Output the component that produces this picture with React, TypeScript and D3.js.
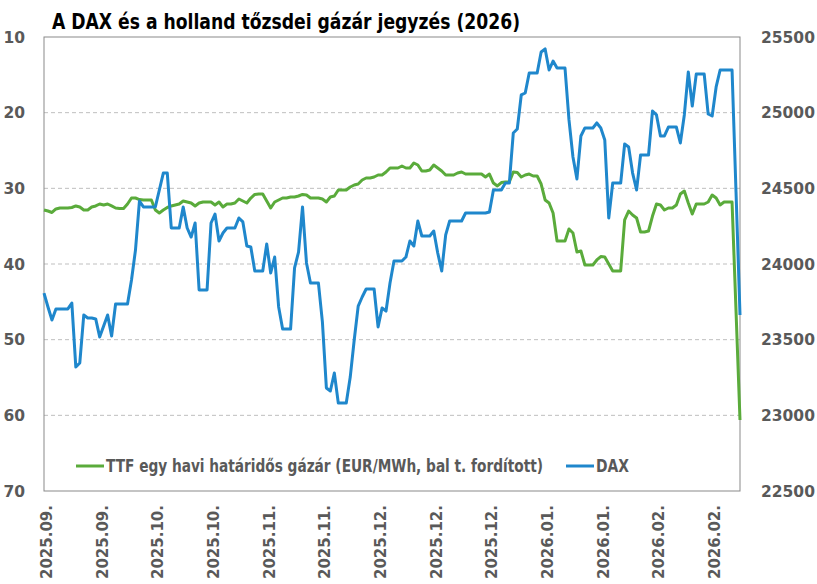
import React from "react";
import * as d3 from "d3";

const title = "A DAX és a holland tőzsdei gázár jegyzés (2026)";
const ttfLabel = "TTF egy havi határidős gázár (EUR/MWh, bal t. fordított)";
const daxLabel = "DAX";

const tickLabels = [
  "2025.09.", "2025.09.", "2025.10.", "2025.10.", "2025.11.", "2025.11.",
  "2025.12.", "2025.12.", "2025.12.", "2026.01.", "2026.01.", "2026.02.", "2026.02.",
];
const labelInterval = 14;

const leftTicks = [10, 20, 30, 40, 50, 60, 70];
const rightTicks = [22500, 23000, 23500, 24000, 24500, 25000, 25500];

const dax = [
  23808, 23716, 23630, 23703, 23703, 23703, 23703, 23742, 23319, 23346,
  23663, 23643, 23643, 23637, 23518, 23590, 23663, 23524, 23736, 23736,
  23736, 23736, 23894, 24092, 24416, 24377, 24377, 24377, 24377, 24489,
  24601, 24601, 24238, 24238, 24238, 24377, 24238, 24178, 24271, 23828,
  23828, 23828, 24271, 24330, 24152, 24205, 24238, 24238, 24238, 24304,
  24278, 24119, 24112, 23954, 23954, 23954, 24132, 23941, 24046, 23716,
  23570, 23570, 23570, 23974, 24079, 24377, 24007, 23874, 23874, 23874,
  23617, 23181, 23161, 23280, 23081, 23081, 23081, 23253, 23498, 23722,
  23782, 23835, 23835, 23835, 23584, 23709, 23689, 23874, 24020, 24020,
  24020, 24046, 24152, 24119, 24284, 24185, 24185, 24185, 24218, 24073,
  23954, 24192, 24284, 24284, 24284, 24284, 24337, 24337, 24337, 24337,
  24337, 24337, 24344, 24489, 24489, 24489, 24535, 24535, 24866, 24892,
  25117, 25130, 25262, 25262, 25262, 25401, 25421, 25282, 25341, 25295,
  25295, 25295, 24952, 24707, 24562, 24846, 24899, 24899, 24899, 24932,
  24899, 24819, 24304, 24535, 24535, 24535, 24793, 24773, 24601, 24489,
  24720, 24720, 24720, 25011, 24985, 24846, 24846, 24905, 24905, 24905,
  24800, 24985, 25269, 25044, 25255, 25255, 25255, 24991, 24978, 25170,
  25282, 25282, 25282, 25282, 24476, 23663,
];

const ttf = [
  32.86, 33.0, 33.19, 32.73, 32.6, 32.6, 32.6, 32.53, 32.33, 32.47,
  32.86, 32.86, 32.47, 32.33, 32.07, 32.2, 32.07, 32.33, 32.6, 32.66,
  32.66, 32.07, 31.28, 31.28, 31.48, 31.54, 31.54, 31.54, 32.86, 33.26,
  32.86, 32.53, 32.33, 32.2, 32.07, 31.67, 31.81, 31.94, 32.33, 31.94,
  31.81, 31.81, 31.81, 32.2, 31.81, 32.47, 32.07, 32.07, 31.94, 31.41,
  31.67, 31.94, 31.28, 30.81, 30.75, 30.75, 31.67, 32.6, 31.81, 31.54,
  31.28, 31.28, 31.15, 31.15, 31.01, 30.81, 30.88, 31.28, 31.28, 31.28,
  31.41, 31.81, 31.15, 31.01, 30.22, 30.22, 30.22, 29.82, 29.56, 29.43,
  28.9, 28.63, 28.63, 28.5, 28.24, 28.24, 27.84, 27.31, 27.31, 27.31,
  27.05, 27.31, 27.31, 26.65, 26.92, 27.71, 27.71, 27.58, 26.92, 27.31,
  27.71, 28.24, 28.24, 28.24, 27.97, 27.84, 28.11, 28.11, 28.11, 28.11,
  28.11, 28.5, 28.11, 29.3, 29.69, 29.23, 29.16, 29.16, 27.84, 27.91,
  28.5, 28.24, 28.11, 28.37, 28.37, 29.43, 31.54, 31.94, 33.26, 36.96,
  36.96, 36.96, 35.37, 35.9, 38.41, 38.28, 40.13, 40.13, 40.13, 39.47,
  39.01, 39.07, 40.0, 40.92, 40.92, 40.92, 34.18, 33.0, 33.52, 33.92,
  35.77, 35.77, 35.64, 33.66, 32.07, 32.2, 32.86, 32.6, 32.6, 32.2,
  30.75, 30.35, 31.94, 33.39, 32.07, 32.07, 32.07, 31.81, 30.88, 31.28,
  32.2, 31.81, 31.81, 31.81, 46.21, 60.62,
];

const W = 817;
const H = 584;
const plot = { left: 44, right: 740, top: 37, bottom: 491 };
const green = "#5aab3b";
const blue = "#1f87cc";
const tickColor = "#595959";
const tickFont = "'DejaVu Sans', Verdana, sans-serif";
const narrowFont = "'Liberation Sans Narrow', 'Arial Narrow', 'DejaVu Sans Condensed', 'Liberation Sans', Arial, sans-serif";

export default function App() {
  const n = dax.length;
  const x = d3.scaleLinear().domain([0, n - 1]).range([plot.left, plot.right]);
  const yL = d3.scaleLinear().domain([10, 70]).range([plot.top, plot.bottom]);
  const yR = d3.scaleLinear().domain([22500, 25500]).range([plot.bottom, plot.top]);

  const ttfLine = d3.line<number>().x((_, i) => x(i)).y((d) => yL(d))(ttf) || "";
  const daxLine = d3.line<number>().x((_, i) => x(i)).y((d) => yR(d))(dax) || "";

  return (
    <svg
      width={W}
      height={H}
      viewBox={`0 0 ${W} ${H}`}
      style={{ position: "absolute", left: 0, top: 0, background: "#fff", display: "block" }}
    >
      <rect x={0} y={0} width={W} height={H} fill="#fff" />
      <text
        x={52}
        y={29}
        fontFamily={narrowFont}
        fontWeight="bold"
        fontSize={21}
        fill="#000"
        textLength={468}
        lengthAdjust="spacingAndGlyphs"
      >
        {title}
      </text>

      {leftTicks.slice(1, -1).map((t) => (
        <line
          key={"g" + t}
          x1={plot.left}
          x2={plot.right}
          y1={yL(t)}
          y2={yL(t)}
          stroke="#bfbfbf"
          strokeWidth={1}
          strokeDasharray="4,3"
        />
      ))}

      <rect
        x={plot.left}
        y={plot.top}
        width={plot.right - plot.left}
        height={plot.bottom - plot.top}
        fill="none"
        stroke="#898989"
        strokeWidth={1}
      />

      {leftTicks.map((t) => (
        <text
          key={"l" + t}
          x={25}
          y={yL(t)}
          dy="0.36em"
          textAnchor="end"
          fontFamily={tickFont}
          fontWeight="bold"
          fontSize={15.5}
          fill={tickColor}
        >
          {t}
        </text>
      ))}

      {rightTicks.map((t) => (
        <text
          key={"r" + t}
          x={761}
          y={yR(t)}
          dy="0.36em"
          textAnchor="start"
          fontFamily={tickFont}
          fontWeight="bold"
          fontSize={15.5}
          fill={tickColor}
        >
          {t}
        </text>
      ))}

      {tickLabels.map((lab, k) => {
        const px = x(k * labelInterval) + 2.5;
        const py = 505;
        return (
          <text
            key={"x" + k}
            transform={`translate(${px},${py}) rotate(-90)`}
            dy="0.36em"
            textAnchor="end"
            fontFamily={tickFont}
            fontWeight="bold"
            fontSize={15}
            fill={tickColor}
          >
            {lab}
          </text>
        );
      })}

      <path d={ttfLine} fill="none" stroke={green} strokeWidth={3} strokeLinejoin="round" />
      <path d={daxLine} fill="none" stroke={blue} strokeWidth={3} strokeLinejoin="round" />

      <line x1={76} x2={104} y1={466} y2={466} stroke={green} strokeWidth={3} />
      <text
        x={106}
        y={466}
        dy="0.35em"
        fontFamily={narrowFont}
        fontWeight="bold"
        fontSize={17}
        fill={tickColor}
        textLength={437}
        lengthAdjust="spacingAndGlyphs"
      >
        {ttfLabel}
      </text>
      <line x1={566} x2={594} y1={466} y2={466} stroke={blue} strokeWidth={3} />
      <text
        x={596}
        y={466}
        dy="0.35em"
        fontFamily={narrowFont}
        fontWeight="bold"
        fontSize={17}
        fill={tickColor}
        textLength={33}
        lengthAdjust="spacingAndGlyphs"
      >
        {daxLabel}
      </text>
    </svg>
  );
}
